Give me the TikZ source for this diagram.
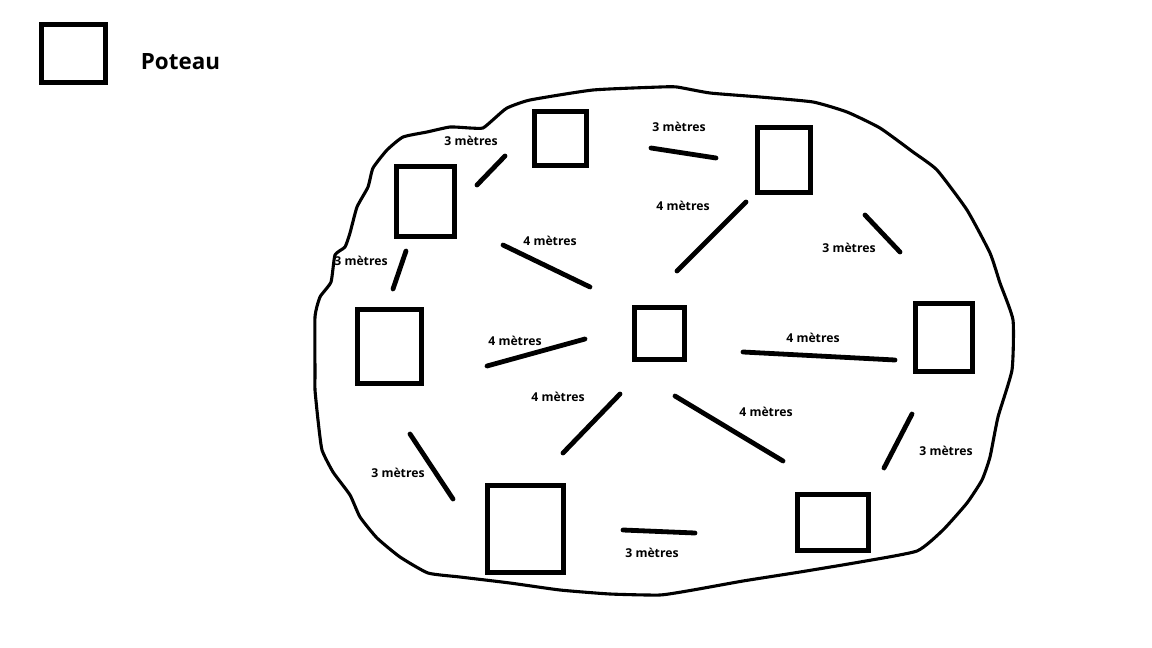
\documentclass[tikz,border=0pt]{standalone}
\usepackage{fontspec}
\setmainfont{Open Sans}
\tikzset{
  poteau/.style={draw=black, line width=5pt, inner sep=0pt},
  cote/.style={line width=4.8pt, line cap=round},
  contour/.style={line width=3.1pt, line join=round},
  longueur/.style={font=\bfseries\fontsize{12.2}{14}\selectfont, inner sep=0pt}
}

\begin{document}
\begin{tikzpicture}[x=1pt, y=-1pt, line cap=round]
  \useasboundingbox (0,0) rectangle (1152,648);

  % ---------- legende ----------
  \node[poteau, minimum width=64pt, minimum height=58pt] (legende) at (73.5,53.5) {};
  \node[font=\bfseries\fontsize{22.4}{24}\selectfont, inner sep=0pt] (poteauLabel) at (180.5,62) {Poteau};

  % ---------- longueurs ----------
  \node[longueur] (l1) at (471,141) {3 mètres};
  \node[longueur] (l2) at (679,127) {3 mètres};
  \node[longueur] (l3) at (849,248) {3 mètres};
  \node[longueur] (l4) at (946,451) {3 mètres};
  \node[longueur] (l5) at (652,553) {3 mètres};
  \node[longueur] (l6) at (398,473) {3 mètres};
  \node[longueur] (l7) at (361,261) {3 mètres};
  \node[longueur] (r1) at (550,241) {4 mètres};
  \node[longueur] (r2) at (683,206) {4 mètres};
  \node[longueur] (r3) at (813,338) {4 mètres};
  \node[longueur] (r4) at (766,412) {4 mètres};
  \node[longueur] (r5) at (558,397) {4 mètres};
  \node[longueur] (r6) at (515,341) {4 mètres};

  % ---------- contour du terrain ----------
  \draw[contour] plot[smooth cycle, tension=0.3] coordinates {
    (315,373) (315,390) (318,420) (322,450) (333,472) (350,495) (360,517)
    (377,538) (400,557) (428,573) (460,577) (510,583) (560,590) (610,594)
    (660,595) (693,590) (743,581) (800,572) (860,562) (917,551) (943,530)
    (967,503) (982,480) (990,457) (998,417) (1012,370) (1013,320) (1000,283)
    (990,253) (967,210) (937,170) (913,152) (880,128) (847,112) (813,102)
    (760,97) (710,93) (677,87) (660,87) (593,90) (530,100) (507,108)
    (495,118) (483,128) (470,128) (450,127) (427,132) (403,137) (387,150)
    (373,168) (368,187) (357,207) (350,233) (345,247) (335,255) (331,282)
    (320,297) (315,317)};

  % ---------- poteaux ----------
  \node[poteau, minimum width=52pt, minimum height=54pt] (pHaut) at (560.5,138.5) {};
  \node[poteau, minimum width=58pt, minimum height=70pt] (pHautGauche) at (425.5,201.5) {};
  \node[poteau, minimum width=64pt, minimum height=74pt] (pGauche) at (389.5,346.5) {};
  \node[poteau, minimum width=53pt, minimum height=65pt] (pHautDroite) at (784,160) {};
  \node[poteau, minimum width=50pt, minimum height=52pt] (pCentre) at (659.5,333.5) {};
  \node[poteau, minimum width=57pt, minimum height=68pt] (pDroite) at (944,337.5) {};
  \node[poteau, minimum width=76pt, minimum height=87pt] (pBas) at (525.5,529) {};
  \node[poteau, minimum width=71pt, minimum height=56pt] (pBasDroite) at (833,522.5) {};

  % ---------- traits exterieurs ----------
  \draw[cote] (477,185) -- (505,156);
  \draw[cote] (651,148) -- (716,158);
  \draw[cote] (865,215) -- (900,252);
  \draw[cote] (912,414) -- (884,468);
  \draw[cote] (623,530) -- (695,533);
  \draw[cote] (410,434) -- (453,499);
  \draw[cote] (406,251) -- (393,289);

  % ---------- traits vers le centre ----------
  \draw[cote] (503,245) -- (590,287);
  \draw[cote] (746,202) -- (677,271);
  \draw[cote] (743,352) -- (895,360);
  \draw[cote] (675,396) -- (783,461);
  \draw[cote] (620,394) -- (563,453);
  \draw[cote] (487,366) -- (585,339);
\end{tikzpicture}
\end{document}
